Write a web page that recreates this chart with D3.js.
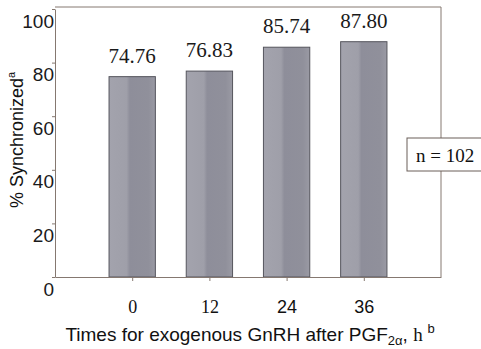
<!DOCTYPE html>
<html>
<head>
<meta charset="utf-8">
<script src="https://cdn.jsdelivr.net/npm/d3@7"></script>
<style>
  body { margin: 0; background: #fff; }
  svg { display: block; }
</style>
</head>
<body>
<div id="chart"></div>
<script>
// data
const times = ["0", "12", "24", "36"];
const synchronized = [74.76, 76.83, 85.74, 87.80];
const yTicks = [0, 20, 40, 60, 80, 100];

drawChart();

function drawChart() {
  const width = 481, height = 349;
  const left = 55, right = 441, top = 7, bottom = 277;

  const svg = d3.select("#chart").append("svg")
    .attr("width", width)
    .attr("height", height);

  // bar fill gradient (lighter left band, darker middle)
  const grad = svg.append("defs").append("linearGradient")
    .attr("id", "barFill")
    .attr("x1", "0").attr("x2", "1").attr("y1", "0").attr("y2", "0");
  grad.append("stop").attr("offset", "0").attr("stop-color", "#a3a3ad");
  grad.append("stop").attr("offset", "0.38").attr("stop-color", "#9f9fa9");
  grad.append("stop").attr("offset", "0.45").attr("stop-color", "#8e8e9a");
  grad.append("stop").attr("offset", "0.85").attr("stop-color", "#90909b");
  grad.append("stop").attr("offset", "1").attr("stop-color", "#9a9aa4");

  const x = d3.scalePoint()
    .domain(times)
    .range([left, right])
    .padding(1);

  const y = d3.scaleLinear()
    .domain([0, 100])
    .range([bottom, 9]);

  const barW = x.step() * 0.6;
  const axisColor = "#857870";

  // frame top and right
  svg.append("line")
    .attr("x1", left).attr("x2", right)
    .attr("y1", top).attr("y2", top)
    .attr("stroke", axisColor).attr("stroke-width", 1);
  svg.append("line")
    .attr("x1", right).attr("x2", right)
    .attr("y1", top).attr("y2", bottom)
    .attr("stroke", axisColor).attr("stroke-width", 1);

  // bars
  svg.selectAll(".bar")
    .data(synchronized)
    .join("rect")
    .attr("class", "bar")
    .attr("x", (d, i) => x(times[i]) - barW / 2)
    .attr("y", d => y(d))
    .attr("width", barW)
    .attr("height", d => y(0) - y(d))
    .attr("fill", "url(#barFill)")
    .attr("stroke", "#55555d")
    .attr("stroke-width", 1);

  // value labels
  svg.selectAll(".val")
    .data(synchronized)
    .join("text")
    .attr("class", "val")
    .attr("x", (d, i) => x(times[i]))
    .attr("y", d => y(d) - 14)
    .attr("text-anchor", "middle")
    .attr("font-family", "'Liberation Serif', 'Times New Roman', serif")
    .attr("font-size", 21)
    .attr("fill", "#1a1a1a")
    .text(d => d.toFixed(2));

  // y axis
  const yAxis = svg.append("g")
    .attr("transform", `translate(${left},0)`)
    .call(d3.axisLeft(y).tickValues(yTicks).tickSize(3).tickSizeOuter(0));
  yAxis.select(".domain").attr("stroke", axisColor);
  yAxis.selectAll(".tick line").attr("stroke", axisColor);
  yAxis.selectAll(".tick text")
    .attr("x", -1)
    .attr("dy", "0.95em")
    .attr("font-family", "'Liberation Sans', Arial, sans-serif")
    .attr("font-size", 19)
    .attr("fill", "#1a1a1a");

  // x axis
  const xAxis = svg.append("g")
    .attr("transform", `translate(0,${bottom})`)
    .call(d3.axisBottom(x).tickSize(4).tickSizeOuter(0).tickPadding(19));
  xAxis.select(".domain").attr("stroke", axisColor);
  xAxis.selectAll(".tick line").attr("stroke", axisColor);
  xAxis.selectAll(".tick text")
    .attr("font-size", 18)
    .attr("fill", "#111")
    .attr("font-family", (d, i) => i < 2
      ? "'Liberation Serif', 'Times New Roman', serif"
      : "'Liberation Sans', Arial, sans-serif");

  // x axis title
  const xt = svg.append("text")
    .attr("x", 250)
    .attr("y", 341)
    .attr("text-anchor", "middle")
    .attr("font-family", "'Liberation Sans', Arial, sans-serif")
    .attr("font-size", 19)
    .attr("fill", "#111");
  xt.append("tspan").text("Times for exogenous GnRH after PGF");
  xt.append("tspan").attr("font-size", 13).attr("dy", 4).text("2α");
  xt.append("tspan").attr("dy", -4).text(", ");
  xt.append("tspan")
    .attr("font-family", "'Liberation Serif', 'Times New Roman', serif")
    .text("h ");
  xt.append("tspan").attr("font-size", 13).attr("dy", -8).text("b");

  // y axis title
  const yt = svg.append("text")
    .attr("transform", "translate(23,140) rotate(-90)")
    .attr("text-anchor", "middle")
    .attr("font-family", "'Liberation Sans', Arial, sans-serif")
    .attr("font-size", 18)
    .attr("fill", "#111");
  yt.append("tspan").text("% Synchronized");
  yt.append("tspan").attr("font-size", 11).attr("dy", -8).text("a");

  // n box
  svg.append("rect")
    .attr("x", 407).attr("y", 138)
    .attr("width", 80).attr("height", 33)
    .attr("fill", "#fff")
    .attr("stroke", "#6a5e58").attr("stroke-width", 1);
  svg.append("text")
    .attr("x", 416).attr("y", 162)
    .attr("font-family", "'Liberation Serif', 'Times New Roman', serif")
    .attr("font-size", 19)
    .attr("fill", "#111")
    .text("n = 102");
}
</script>
</body>
</html>
